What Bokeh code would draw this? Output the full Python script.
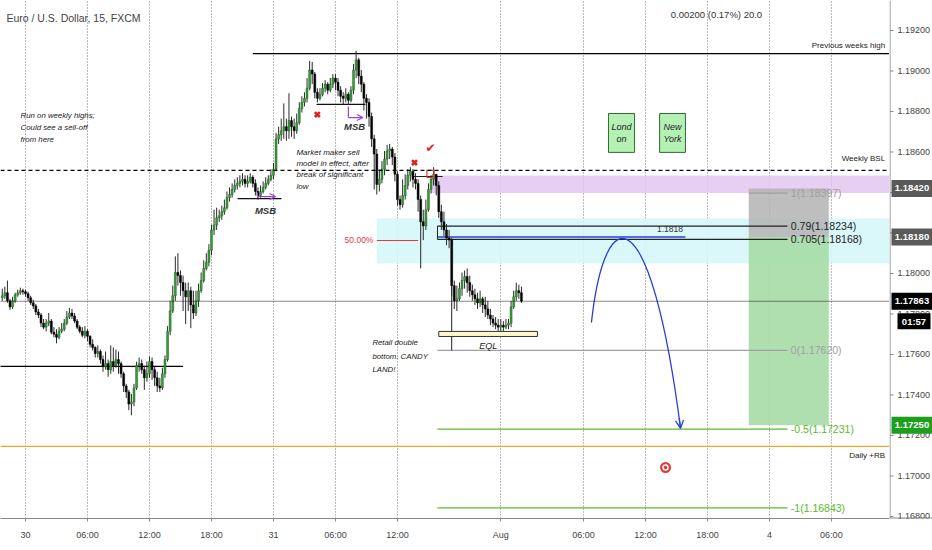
from bokeh.plotting import figure
from bokeh.layouts import row
from bokeh.models import (Range1d, FixedTicker, Arrow, OpenHead, Span, BoxAnnotation,
                          ColumnDataSource)
from bokeh.core.properties import value
from bokeh.embed import file_html
from bokeh.resources import INLINE

FONT = "Liberation Sans"

# ---------------- data (EUR/USD 15m, FXCM) ----------------
bar_index = list(range(-9, 193))
close = [
    1.17890, 1.17905, 1.17865, 1.17835, 1.17865, 1.17895, 1.17905, 1.17915, 1.17910, 1.17900,
    1.17880, 1.17855, 1.17840, 1.17810, 1.17795, 1.17755, 1.17735, 1.17755, 1.17765, 1.17710,
    1.17700, 1.17685, 1.17715, 1.17725, 1.17755, 1.17785, 1.17805, 1.17790, 1.17765, 1.17735,
    1.17715, 1.17695, 1.17715, 1.17690, 1.17650, 1.17635, 1.17605, 1.17615, 1.17575, 1.17540,
    1.17555, 1.17525, 1.17565, 1.17545, 1.17575, 1.17555, 1.17505, 1.17445, 1.17415, 1.17355,
    1.17365, 1.17435, 1.17545, 1.17555, 1.17525, 1.17485, 1.17505, 1.17565, 1.17525, 1.17485,
    1.17445, 1.17435, 1.17505, 1.17575, 1.17715, 1.17815, 1.17890, 1.18005, 1.17990, 1.17955,
    1.17915, 1.17885, 1.17915, 1.17845, 1.17805, 1.17865, 1.17915, 1.17965, 1.18025, 1.18055,
    1.18115, 1.18215, 1.18240, 1.18275, 1.18285, 1.18305, 1.18325, 1.18375, 1.18390, 1.18415,
    1.18435, 1.18445, 1.18455, 1.18465, 1.18445, 1.18455, 1.18475, 1.18445, 1.18405, 1.18385,
    1.18405, 1.18425, 1.18445, 1.18465, 1.18485, 1.18515, 1.18665, 1.18685, 1.18705, 1.18725,
    1.18705, 1.18755, 1.18725, 1.18705, 1.18745, 1.18815, 1.18845, 1.18865, 1.18915, 1.19005,
    1.18985, 1.18895, 1.18865, 1.18885, 1.18915, 1.18935, 1.18905, 1.18935, 1.18965, 1.18945,
    1.18905, 1.18875, 1.18865, 1.18885, 1.18855, 1.18905, 1.19005, 1.19055, 1.18975, 1.18935,
    1.18865, 1.18845, 1.18775, 1.18665, 1.18590, 1.18440, 1.18465, 1.18515, 1.18565, 1.18605,
    1.18615, 1.18575, 1.18490, 1.18365, 1.18340, 1.18385, 1.18435, 1.18485, 1.18505, 1.18465,
    1.18445, 1.18365, 1.18255, 1.18235, 1.18315, 1.18415, 1.18465, 1.18490, 1.18435, 1.18305,
    1.18255, 1.18215, 1.18175, 1.18165, 1.17940, 1.17865, 1.17875, 1.17925, 1.17965, 1.17985,
    1.17955, 1.17915, 1.17895, 1.17875, 1.17855, 1.17875, 1.17845, 1.17825, 1.17795, 1.17775,
    1.17755, 1.17745, 1.17735, 1.17745, 1.17735, 1.17745, 1.17755, 1.17835, 1.17885, 1.17915,
    1.17905, 1.17863,
]
high = [
    1.17925, 1.17935, 1.17965, 1.17875, 1.17885, 1.17905, 1.17920, 1.17930, 1.17925, 1.17920,
    1.17910, 1.17890, 1.17870, 1.17850, 1.17825, 1.17805, 1.17775, 1.17775, 1.17805, 1.17775,
    1.17735, 1.17725, 1.17735, 1.17755, 1.17775, 1.17815, 1.17830, 1.17825, 1.17805, 1.17775,
    1.17745, 1.17735, 1.17740, 1.17725, 1.17695, 1.17675, 1.17640, 1.17645, 1.17625, 1.17595,
    1.17615, 1.17575, 1.17645, 1.17635, 1.17625, 1.17615, 1.17565, 1.17515, 1.17455, 1.17425,
    1.17405, 1.17455, 1.17565, 1.17585, 1.17575, 1.17545, 1.17565, 1.17590, 1.17585, 1.17540,
    1.17515, 1.17485, 1.17535, 1.17595, 1.17740, 1.17865, 1.17940, 1.18085, 1.18100, 1.18015,
    1.17990, 1.17955, 1.17955, 1.17935, 1.17915, 1.17915, 1.17950, 1.18005, 1.18065, 1.18100,
    1.18145, 1.18240, 1.18315, 1.18325, 1.18315, 1.18335, 1.18365, 1.18405, 1.18425, 1.18445,
    1.18465, 1.18475, 1.18485, 1.18495, 1.18485, 1.18485, 1.18495, 1.18485, 1.18465, 1.18425,
    1.18435, 1.18455, 1.18475, 1.18485, 1.18515, 1.18545, 1.18695, 1.18725, 1.18765, 1.18840,
    1.18765, 1.18890, 1.18775, 1.18765, 1.18790, 1.18845, 1.18875, 1.18895, 1.18965, 1.19050,
    1.19045, 1.18995, 1.18915, 1.18915, 1.18940, 1.18955, 1.18945, 1.18965, 1.18985, 1.18985,
    1.18965, 1.18925, 1.18895, 1.18915, 1.18895, 1.18925, 1.19035, 1.19100, 1.19065, 1.19005,
    1.18945, 1.18885, 1.18865, 1.18795, 1.18685, 1.18615, 1.18515, 1.18555, 1.18605, 1.18635,
    1.18640, 1.18625, 1.18595, 1.18505, 1.18385, 1.18465, 1.18490, 1.18515, 1.18525, 1.18515,
    1.18495, 1.18465, 1.18385, 1.18315, 1.18365, 1.18445, 1.18485, 1.18525, 1.18475, 1.18455,
    1.18340, 1.18305, 1.18245, 1.18215, 1.18175, 1.17965, 1.17940, 1.17955, 1.18005, 1.18015,
    1.18025, 1.17990, 1.17945, 1.17925, 1.17905, 1.17915, 1.17885, 1.17885, 1.17865, 1.17825,
    1.17795, 1.17785, 1.17775, 1.17775, 1.17765, 1.17775, 1.17775, 1.17865, 1.17915, 1.17955,
    1.17945, 1.17935,
]
low = [
    1.17865, 1.17875, 1.17855, 1.17820, 1.17825, 1.17855, 1.17885, 1.17895, 1.17895, 1.17885,
    1.17865, 1.17845, 1.17825, 1.17795, 1.17780, 1.17735, 1.17725, 1.17715, 1.17740, 1.17700,
    1.17685, 1.17655, 1.17675, 1.17705, 1.17715, 1.17745, 1.17775, 1.17775, 1.17755, 1.17725,
    1.17705, 1.17685, 1.17680, 1.17665, 1.17635, 1.17620, 1.17585, 1.17585, 1.17555, 1.17515,
    1.17525, 1.17490, 1.17505, 1.17515, 1.17535, 1.17505, 1.17485, 1.17415, 1.17385, 1.17325,
    1.17300, 1.17345, 1.17425, 1.17515, 1.17505, 1.17425, 1.17465, 1.17485, 1.17475, 1.17445,
    1.17415, 1.17415, 1.17425, 1.17485, 1.17565, 1.17695, 1.17805, 1.17865, 1.17940, 1.17890,
    1.17815, 1.17750, 1.17815, 1.17730, 1.17775, 1.17790, 1.17835, 1.17905, 1.17955, 1.18015,
    1.18035, 1.18090, 1.18190, 1.18215, 1.18255, 1.18265, 1.18290, 1.18315, 1.18355, 1.18375,
    1.18400, 1.18415, 1.18425, 1.18435, 1.18425, 1.18425, 1.18445, 1.18425, 1.18385, 1.18365,
    1.18375, 1.18395, 1.18415, 1.18435, 1.18455, 1.18465, 1.18505, 1.18640, 1.18655, 1.18665,
    1.18655, 1.18665, 1.18675, 1.18665, 1.18690, 1.18735, 1.18795, 1.18825, 1.18845, 1.18905,
    1.18935, 1.18865, 1.18845, 1.18855, 1.18875, 1.18895, 1.18885, 1.18895, 1.18915, 1.18905,
    1.18875, 1.18845, 1.18835, 1.18845, 1.18835, 1.18845, 1.18885, 1.18965, 1.18935, 1.18895,
    1.18805, 1.18765, 1.18725, 1.18625, 1.18415, 1.18390, 1.18405, 1.18445, 1.18485, 1.18535,
    1.18565, 1.18535, 1.18455, 1.18335, 1.18315, 1.18325, 1.18365, 1.18415, 1.18455, 1.18425,
    1.18415, 1.18305, 1.18025, 1.18165, 1.18215, 1.18305, 1.18395, 1.18435, 1.18385, 1.18275,
    1.18215, 1.18185, 1.18140, 1.18125, 1.17890, 1.17825, 1.17815, 1.17865, 1.17890, 1.17925,
    1.17905, 1.17885, 1.17865, 1.17845, 1.17825, 1.17835, 1.17805, 1.17785, 1.17775, 1.17745,
    1.17735, 1.17725, 1.17715, 1.17715, 1.17715, 1.17725, 1.17725, 1.17735, 1.17825, 1.17865,
    1.17875, 1.17855,
]
first_open = 1.17880

x_tick_pos = [0, 24, 48, 72, 96, 120, 144, 184, 216, 240, 264, 288, 312]
x_tick_labels = ["30", "06:00", "12:00", "18:00", "31", "06:00", "12:00", "Aug",
                 "06:00", "12:00", "18:00", "4", "06:00"]
y_ticks = [1.168, 1.170, 1.172, 1.174, 1.176, 1.178, 1.180, 1.182, 1.184,
           1.186, 1.188, 1.190, 1.192]

# key levels
prev_week_high = 1.19086
weekly_bsl = 1.18509
daily_rb = 1.17146
left_level = 1.17541
last_price = 1.17863
fifty_level = 1.18163
blue_level = 1.1818
fib_levels = [("1", 1.18397), ("0.79", 1.18234), ("0.705", 1.18168),
              ("0", 1.17620), ("-0.5", 1.17231), ("-1", 1.16843)]
pos_stop, pos_entry, pos_target = 1.18420, 1.18180, 1.17250
countdown = "01:57"

assert len(close) == len(high) == len(low) == len(bar_index)
open_ = [first_open] + close[:-1]
hi = [max(h, o, c) for h, o, c in zip(high, open_, close)]
lo = [min(l, o, c) for l, o, c in zip(low, open_, close)]
up = [c >= o for o, c in zip(open_, close)]

src = ColumnDataSource(dict(
    x=bar_index, hi=hi, lo=lo,
    top=[max(o, c) for o, c in zip(open_, close)],
    bottom=[min(o, c) for o, c in zip(open_, close)],
    fill=["#36a136" if u else "#000000" for u in up],
    line=["#1f5f1f" if u else "#000000" for u in up],
))

X0, X1 = -9.68, 334.5
Y0, Y1 = 1.167901, 1.193481
p = figure(frame_width=889, frame_height=518,
           x_range=Range1d(X0, X1), y_range=Range1d(Y0, Y1),
           y_axis_location=None, output_backend="svg", toolbar_location=None,
           min_border_left=0, min_border_top=0, min_border_right=0, min_border_bottom=32)
p.outline_line_color = None
p.background_fill_color = "white"
p.border_fill_color = "white"

# time axis
p.xaxis.ticker = FixedTicker(ticks=x_tick_pos)
p.xaxis.major_label_overrides = {t: l for t, l in zip(x_tick_pos, x_tick_labels)}
ax = p.xaxis[0]
ax.axis_line_color = "#8a8a8a"
ax.major_tick_line_color = "#8a8a8a"
ax.minor_tick_line_color = None
ax.major_tick_in = 0
ax.major_tick_out = 3
ax.major_label_standoff = 8
ax.major_label_text_font = FONT
ax.major_label_text_font_size = "9px"
ax.major_label_text_color = "#444444"
p.xgrid.ticker = FixedTicker(ticks=x_tick_pos)
p.xgrid.grid_line_color = "#777777"
p.xgrid.grid_line_dash = "1 2"
p.ygrid.visible = False

# zones
p.add_layout(BoxAnnotation(left=157, right=X1, bottom=1.18397, top=1.18484,
                           fill_color="#e3c6f1", fill_alpha=0.85, line_color=None, level="underlay"))
p.add_layout(BoxAnnotation(left=136, right=X1, bottom=1.18049, top=1.18272,
                           fill_color="#d6f6f9", fill_alpha=0.9, line_color=None, level="underlay"))
p.add_layout(BoxAnnotation(left=280, right=311, bottom=pos_entry, top=pos_stop,
                           fill_color="#b3b3b3", fill_alpha=0.85, line_color=None, level="underlay"))
p.add_layout(BoxAnnotation(left=280, right=311, bottom=pos_target, top=pos_entry,
                           fill_color="#a6dba6", fill_alpha=0.9, line_color=None, level="underlay"))

def txt(fig, x, y, s, size, color, style="normal", align="left", baseline="middle", lh=1.2,
        font=FONT):
    fig.text(x=[x], y=[y], text=[s], text_font=value(font), text_font_size=size,
             text_color=color, text_font_style=style, text_align=align,
             text_baseline=baseline, text_line_height=lh)

# session boxes
for l, r, name in [(225.7, 235.8, "Lond\non"), (245.5, 255.5, "New\nYork")]:
    p.quad(left=[l], right=[r], bottom=[1.18598], top=[1.18790],
           fill_color="#b5f0b5", line_color="#2e6b2e", line_width=1)
    txt(p, (l + r) / 2, 1.18694, name, "9px", "#222222", style="italic", align="center", lh=1.25)

# full-width lines
p.add_layout(Span(location=weekly_bsl, dimension="width", line_color="black",
                  line_dash="4 3", line_width=1.2))
p.add_layout(Span(location=daily_rb, dimension="width", line_color="#f5a623", line_width=1.3))
p.add_layout(Span(location=last_price, dimension="width", line_color="#111111",
                  line_dash="1 1", line_width=1))
p.segment(x0=[88], y0=[prev_week_high], x1=[X1], y1=[prev_week_high], line_color="black", line_width=1.3)
p.segment(x0=[X0 - 5], y0=[left_level], x1=[61], y1=[left_level], line_color="black", line_width=1.3)

# fib / levels
p.segment(x0=[136], y0=[fifty_level], x1=[152], y1=[fifty_level], line_color="#e53935", line_width=1.2)
fib_colors = {"1": "#a0a0a0", "0.79": "#222222", "0.705": "#222222", "0": "#a0a0a0",
              "-0.5": "#5cb82e", "-1": "#5cb82e"}
for name, lvl in fib_levels:
    start = 280 if name == "1" else 159.5
    p.segment(x0=[start], y0=[lvl], x1=[295], y1=[lvl], line_color=fib_colors[name], line_width=1.2)
    txt(p, 296.3, lvl, f"{name}({lvl:.5f})", "10.5px", fib_colors[name])
p.segment(x0=[159.5], y0=[blue_level], x1=[255.5], y1=[blue_level], line_color="#2a3fd6", line_width=1.6)
txt(p, 249.5, 1.18222, "1.1818", "8.5px", "#333333", align="center")
p.segment(x0=[159.5, 165.0], y0=[1.18234, 1.18168], x1=[159.5, 165.0], y1=[1.18168, 1.17620],
          line_color="#222222", line_width=1)
p.segment(x0=[150], y0=[1.18479], x1=[161.5], y1=[1.18479], line_color="#222222", line_width=1.2)

# EQL
p.quad(left=[160], right=[198.2], bottom=[1.17689], top=[1.17714],
       fill_color="#fff8c8", line_color="#333333", line_width=1)

# candles
p.segment(x0="x", y0="hi", x1="x", y1="lo", source=src, line_color="#2b2b2b", line_width=1)
p.vbar(x="x", width=0.75, top="top", bottom="bottom", source=src,
       fill_color="fill", line_color="line", line_width=0.5)

# red marks
p.quad(left=[155.4], right=[158.2], bottom=[1.18474], top=[1.18509],
       fill_color=None, line_color="#e53935", line_width=1.2)
p.scatter(x=[113, 150.6], y=[1.18785, 1.18548], marker="x", size=7, line_width=2.6, color="#e0201b")
txt(p, 156.8, 1.18622, "✔", "12px", "#e0201b", align="center", font="DejaVu Sans")
p.scatter(x=[247.8], y=[1.17042], marker="circle", size=11, fill_color="#e53935", line_color=None)
p.scatter(x=[247.8], y=[1.17042], marker="circle", size=5, fill_color=None, line_color="white", line_width=1.5)

# MSB structures
p.segment(x0=[82.1, 112.7], y0=[1.18370, 1.18835], x1=[99.1, 131.6], y1=[1.18370, 1.18835],
          line_color="#111111", line_width=1.3)
p.segment(x0=[89.8, 125.0], y0=[1.18400, 1.18825], x1=[89.8, 125.0], y1=[1.18380, 1.18770],
          line_color="#a040d8", line_width=1.2)
for xs, xe, yy in [(89.8, 96.8, 1.18380), (125.0, 130.6, 1.18770)]:
    p.add_layout(Arrow(end=OpenHead(size=6, line_color="#a040d8", line_width=1.2),
                       x_start=xs, y_start=yy, x_end=xe, y_end=yy,
                       line_color="#a040d8", line_width=1.2))
for mx, my in [(92.9, 1.18311), (127.4, 1.18726)]:
    txt(p, mx, my, "MSB", "9.5px", "#333333", style="bold italic", align="center")

# blue projection curve
p.bezier(x0=[219.1], y0=[1.17758], x1=[253.6], y1=[1.17235], cx0=[224.5], cy0=[1.18379],
         cx1=[242.0], cy1=[1.18379], line_color="#2a3fd6", line_width=1.3)
p.add_layout(Arrow(end=OpenHead(size=8, line_color="#2a3fd6", line_width=1.3),
                   x_start=253.1, y_start=1.17285, x_end=253.6, y_end=1.17235,
                   line_color="#2a3fd6", line_width=1.3))

# annotation texts
txt(p, -7.4, 1.19264, "Euro / U.S. Dollar, 15, FXCM", "10.5px", "#444444")
txt(p, 267.5, 1.19279, "0.00200 (0.17%) 20.0", "9.5px", "#333333", align="center")
txt(p, 332.8, 1.19126, "Previous weeks high", "8px", "#222222", align="right")
txt(p, 332.8, 1.18568, "Weekly BSL", "8px", "#222222", align="right")
txt(p, 332.8, 1.17100, "Daily +RB", "8px", "#222222", align="right")
txt(p, 134.7, fifty_level, "50.00%", "8.5px", "#e53935", align="right")
txt(p, -1.9, 1.18800, "Run on weekly highs;\nCould see a sell-off\nfrom here", "7.8px", "#222222",
    style="italic", baseline="top", lh=1.3)
txt(p, 104.9, 1.18620, "Market maker sell\nmodel in effect, after\nbreak of significant\nlow", "8px",
    "#222222", style="italic", baseline="top", lh=1.25)
txt(p, 134.3, 1.17679, "Retail double\nbottom. CANDY\nLAND!", "7.8px", "#222222",
    style="italic", baseline="top", lh=1.45)
txt(p, 179.2, 1.17644, "EQL", "9px", "#222222", style="italic", align="center")

# ---------------- price scale strip ----------------
p2 = figure(frame_width=43, frame_height=518, x_range=Range1d(0, 43), y_range=p.y_range,
            x_axis_location=None, y_axis_location=None, output_backend="svg",
            toolbar_location=None, min_border_left=0, min_border_top=0, min_border_right=0,
            min_border_bottom=32)
p2.outline_line_color = None
p2.grid.visible = False
p2.border_fill_color = "white"
p2.segment(x0=[0.5], y0=[Y0], x1=[0.5], y1=[Y1], line_color="#8a8a8a", line_width=1)
p2.segment(x0=[0], y0=[Y0], x1=[43], y1=[Y0], line_color="#8a8a8a", line_width=2)
p2.segment(x0=[0.5] * len(y_ticks), y0=y_ticks, x1=[4] * len(y_ticks), y1=y_ticks,
           line_color="#8a8a8a", line_width=1)
p2.text(x=[8] * len(y_ticks), y=y_ticks, text=[f"{t:.5f}" for t in y_ticks],
        text_font=value(FONT), text_font_size="9px", text_color="#444444",
        text_baseline="middle")
badges = [(pos_stop, "1.18420", "#5a5a5a"), (pos_entry, "1.18180", "#5a5a5a"),
          (last_price, "1.17863", "#000000"), (pos_target, "1.17250", "#1e9e1e")]
p2.rect(x=[22.5] * 4, y=[b[0] for b in badges], width=41, height=17, height_units="screen",
        fill_color=[b[2] for b in badges], line_color=None)
p2.text(x=[22.5] * 4, y=[b[0] for b in badges], text=[b[1] for b in badges],
        text_font=value(FONT), text_font_size="9.5px", text_font_style="bold",
        text_color="white", text_align="center", text_baseline="middle")
p2.rect(x=[24.5], y=[last_price - 0.00099], width=33, height=16, height_units="screen",
        fill_color="#000000", line_color=None)
p2.text(x=[24.5], y=[last_price - 0.00099], text=[countdown], text_font=value(FONT),
        text_font_size="9.5px", text_font_style="bold", text_color="white",
        text_align="center", text_baseline="middle")

layout = row(p, p2)
open("out.html", "w").write(file_html(layout, INLINE))
